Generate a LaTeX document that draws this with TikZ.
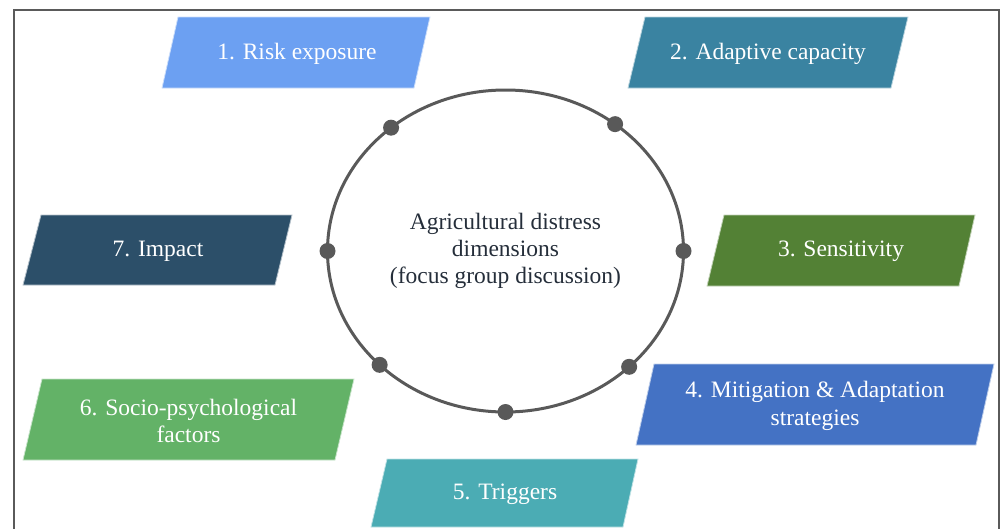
\documentclass[tikz,border=0pt]{standalone}
\usepackage{fontspec}
\setmainfont{Liberation Serif}
\usetikzlibrary{shapes.geometric,calc}
\definecolor{cRisk}{HTML}{6CA0F2}
\definecolor{cAdapt}{HTML}{3A83A1}
\definecolor{cImpact}{HTML}{2C4F69}
\definecolor{cSens}{HTML}{538135}
\definecolor{cSocio}{HTML}{63B267}
\definecolor{cMitig}{HTML}{4472C4}
\definecolor{cTrig}{HTML}{4BACB4}
\definecolor{ringc}{HTML}{595959}
\definecolor{framec}{HTML}{5A5A5A}
\definecolor{hubtext}{HTML}{252E3A}
\tikzset{
  x=1pt, y=-1pt,
  boxtext/.style={text=white, align=center, font=\fontsize{23.5}{27.5}\selectfont, inner sep=0pt},
  ring/.style={draw=ringc, line width=3pt, ellipse, inner sep=0pt, minimum width=356pt, minimum height=322pt,
    align=center, text=hubtext, font=\fontsize{23.5}{27}\selectfont},
  ringdot/.style={circle, fill=ringc, inner sep=0pt, minimum size=16pt},
  frameline/.style={draw=framec, line width=1.2pt},
}
% #1 colour, TLx, BLx, TRx, BRx, ytop, ybot
\newcommand{\paraBox}[7]{%
  \fill[#1, draw=white!65!#1, line width=0.8pt] (#2,#6) -- (#4,#6) -- (#5,#7) -- (#3,#7) -- cycle;}
\begin{document}
\begin{tikzpicture}
\useasboundingbox (0,0) rectangle (1002,528);
\draw[frameline] (14,530) -- (14,10) -- (999,10) -- (999,530);

\paraBox{cRisk}{178}{162}{430}{414}{17}{88}
\node[boxtext] (b1) at (297,53.5) {1. Risk exposure};

\paraBox{cAdapt}{645}{628}{908}{891}{17}{88}
\node[boxtext] (b2) at (768,53.5) {2. Adaptive capacity};

\paraBox{cSens}{724}{707}{975}{959}{215}{286}
\node[boxtext] (b3) at (841,251.5) {3. Sensitivity};

\paraBox{cMitig}{654}{636}{994}{976}{364}{445}
\node[boxtext] (b4) at (815,406) {4. Mitigation \& Adaptation\\strategies};

\paraBox{cTrig}{387}{371}{638}{623}{459}{527}
\node[boxtext] (b5) at (505,494) {5. Triggers};

\paraBox{cSocio}{42}{23}{354}{335}{379}{460}
\node[boxtext] (b6) at (188.5,421) {6. Socio-psychological\\factors};

\paraBox{cImpact}{41}{23}{292}{275}{215}{285}
\node[boxtext] (b7) at (158,251) {7. Impact};

\node[ring] (hub) at (505.5,251) {Agricultural distress\\dimensions\\(focus group discussion)};

\foreach \a/\n in {0/d0,52/d1,130/d2,180/d3,225/d4,270/d5,314/d6}
  \node[ringdot] (\n) at ($(hub.center)+(\a:178pt and 161pt)$) {};
\end{tikzpicture}
\end{document}
